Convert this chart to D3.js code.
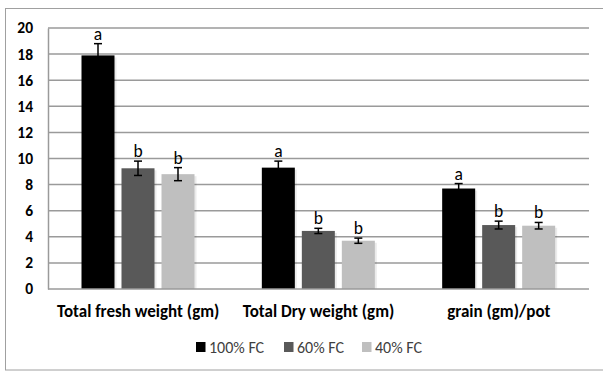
<!DOCTYPE html>
<html><head><meta charset="utf-8">
<script src="https://cdn.jsdelivr.net/npm/d3@7"></script>
<style>body{margin:0;background:#fff}svg{display:block}</style>
</head><body>
<svg id="c" width="603" height="373"></svg>
<script>
const categories = ["Total fresh weight (gm)", "Total Dry weight (gm)", "grain (gm)/pot"];
const seriesNames = ["100% FC", "60% FC", "40% FC"];
const seriesColors = ["#000000", "#595959", "#bfbfbf"];
const values100 = [17.9, 9.3, 7.7];
const values60 = [9.25, 4.45, 4.9];
const values40 = [8.8, 3.7, 4.85];
const err100 = [0.9, 0.5, 0.38];
const err60 = [0.55, 0.2, 0.3];
const err40 = [0.5, 0.2, 0.25];
const letters100 = ["a", "a", "a"];
const letters60 = ["b", "b", "b"];
const letters40 = ["b", "b", "b"];
const yTicks = [0, 2, 4, 6, 8, 10, 12, 14, 16, 18, 20];

const series = [
  {name: seriesNames[0], color: seriesColors[0], vals: values100, errs: err100, letters: letters100},
  {name: seriesNames[1], color: seriesColors[1], vals: values60, errs: err60, letters: letters60},
  {name: seriesNames[2], color: seriesColors[2], vals: values40, errs: err40, letters: letters40}
];

const svg = d3.select("#c");
const font = "Carlito, Calibri, 'Liberation Sans', Arial, sans-serif";
// outer border
svg.append("rect").attr("x", 5.5).attr("y", 8.5).attr("width", 610).attr("height", 361.5)
  .attr("fill", "none").attr("stroke", "#a0a0a0").attr("stroke-width", 1);

const L = 48, R = 589, T = 28, B = 289;
const x0 = d3.scaleBand().domain(categories).range([L, R]).paddingInner(0).paddingOuter(0);
const x1 = d3.scaleBand().domain(seriesNames).range([33.5, 180 - 33.5]).paddingInner(0.175);
const y = d3.scaleLinear().domain([0, 20]).range([B, T]);

// gridlines
svg.append("g").selectAll("line").data(yTicks.filter(d => d > 0)).join("line")
  .attr("x1", L).attr("x2", R).attr("y1", d => y(d)).attr("y2", d => y(d))
  .attr("stroke", "#9a9a9a").attr("stroke-width", 1.5);

// y axis
const ya = svg.append("g").attr("transform", `translate(${L},0)`)
  .call(d3.axisLeft(y).tickValues(yTicks).tickSize(0).tickPadding(15));
ya.select(".domain").attr("stroke", "#9a9a9a").attr("stroke-width", 1.5);
ya.selectAll("text").attr("font-family", font).attr("font-size", 15.5).attr("font-weight", "bold").attr("fill", "#000");

// bars
const groups = svg.append("g").selectAll("g").data(series).join("g");
groups.each(function(s) {
  const g = d3.select(this);
  categories.forEach((c, i) => {
    const bx = x0(c) + x1(s.name), bw = x1.bandwidth();
    const v = s.vals[i], e = s.errs[i];
    g.append("rect").attr("x", bx + 2).attr("y", y(v) + 2).attr("width", bw).attr("height", B - y(v) - 2)
      .attr("fill", "#000").attr("opacity", 0.08);
    g.append("rect").attr("x", bx).attr("y", y(v)).attr("width", bw).attr("height", B - y(v))
      .attr("fill", s.color);
    const cx = bx + bw / 2;
    g.append("line").attr("x1", cx).attr("x2", cx).attr("y1", y(v + e)).attr("y2", y(v - e))
      .attr("stroke", "#000").attr("stroke-width", 1.5);
    [v + e, v - e].forEach(t => g.append("line").attr("x1", cx - 4).attr("x2", cx + 4)
      .attr("y1", y(t)).attr("y2", y(t)).attr("stroke", "#000").attr("stroke-width", 1.5));
    g.append("text").attr("x", cx).attr("y", y(v + e) - 4).attr("text-anchor", "middle")
      .attr("font-family", font).attr("font-size", 17.5).attr("fill", "#000").text(s.letters[i]);
  });
});

// x axis baseline
svg.append("line").attr("x1", L).attr("x2", R).attr("y1", B).attr("y2", B)
  .attr("stroke", "#9a9a9a").attr("stroke-width", 1.5);

// category labels
svg.append("g").selectAll("text").data(categories).join("text")
  .attr("x", d => x0(d) + x0.bandwidth() / 2).attr("y", 316.5).attr("text-anchor", "middle")
  .attr("font-family", font).attr("font-size", 17).attr("font-weight", "bold").attr("fill", "#000")
  .text(d => d);

// legend
const legX = [196, 284, 362];
const leg = svg.append("g").selectAll("g").data(series).join("g")
  .attr("transform", (d, i) => `translate(${legX[i]},347)`);
leg.append("rect").attr("x", 0).attr("y", -5).attr("width", 9.5).attr("height", 10).attr("fill", d => d.color);
leg.append("text").attr("x", 13).attr("y", 5.5).attr("font-family", font).attr("font-size", 16)
  .attr("fill", "#404040").text(d => d.name);
</script>
</body></html>
